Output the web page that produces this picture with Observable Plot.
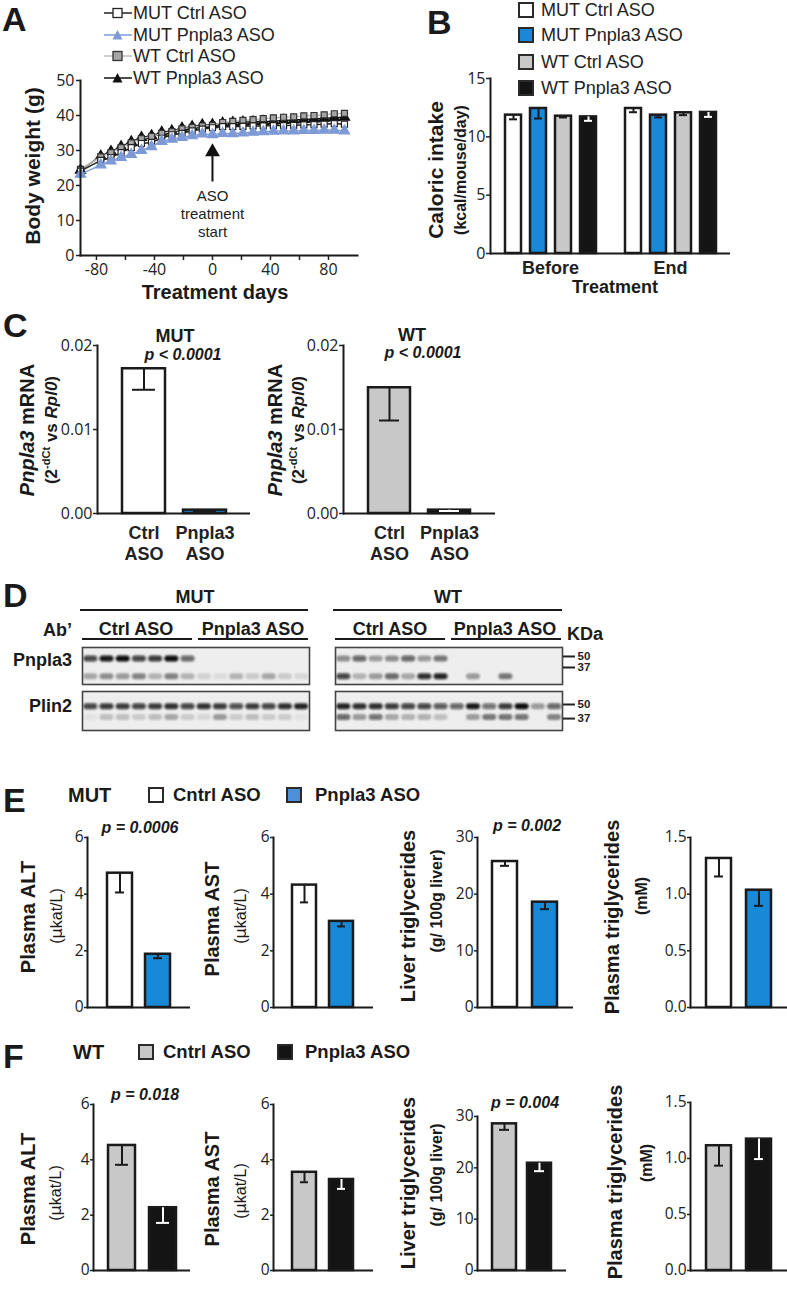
<!DOCTYPE html>
<html><head><meta charset="utf-8">
<script src="https://cdn.jsdelivr.net/npm/d3@7"></script>
<script src="https://cdn.jsdelivr.net/npm/@observablehq/plot@0.6"></script>
<style>
html,body{margin:0;padding:0;background:#fff;overflow:hidden;}
#fig{position:relative;width:787px;height:1289px;font-family:"Liberation Sans",Arial,sans-serif;color:#1a1a1a;}
.t{position:absolute;white-space:nowrap;line-height:1;}
</style></head><body><div id="fig"></div>
<script>
// ================= DATA =================
// Panel A: body weight (g) by treatment day
const days = [-91,-77,-70,-63,-56,-49,-42,-35,-28,-21,-14,-7,0,7,14,21,28,35,42,49,56,63,70,77,84,91];
const mutCtrlWeight   = [24.1,27.2,28.0,29.4,30.8,32.0,32.3,33.5,34.5,34.9,35.6,36.1,36.5,36.8,36.8,36.9,37.0,37.0,37.1,37.1,37.2,37.3,37.4,37.5,37.7,37.5];
const mutPnpla3Weight = [23.2,25.9,27.0,28.0,28.9,30.0,31.1,32.6,33.2,33.7,34.2,34.7,34.5,34.9,34.8,35.0,35.2,35.4,35.5,35.6,35.6,35.7,35.7,35.8,35.8,35.6];
const wtCtrlWeight    = [24.6,28.2,29.4,30.8,32.2,33.4,34.0,34.9,35.4,36.2,36.6,37.0,37.2,38.0,38.3,38.6,38.8,39.1,39.3,39.5,39.6,39.9,40.0,40.2,40.5,40.6];
const wtPnpla3Weight  = [24.4,28.4,29.7,31.1,32.5,33.7,34.2,35.2,35.6,36.4,36.8,37.3,37.4,37.8,38.0,38.1,38.2,38.3,38.4,38.6,38.7,38.9,39.0,39.2,39.4,39.5];
const weightTicks = [0,10,20,30,40,50];
const dayTicks = [-80,-60,-40,-20,0,20,40,60,80];
const dayLabels = [-80,-40,0,40,80];
const asoStart = [{day: 0, from: 21, to: 29.6, textAt: 19.3, text: "ASO\ntreatment\nstart"}];

// Panel B: caloric intake (kcal/mouse/day)
const groups4 = ["MUT Ctrl ASO","MUT Pnpla3 ASO","WT Ctrl ASO","WT Pnpla3 ASO"];
const periods = ["Before","End"];
const caloricBefore    = [11.86,12.43,11.77,11.71];
const caloricBeforeSem = [0.36,0.86,0.11,0.34];
const caloricEnd       = [12.43,11.86,12.06,12.09];
const caloricEndSem    = [0.32,0.20,0.20,0.38];
const caloricTicks = [0,5,10,15];

// Panel C: Pnpla3 mRNA
const asoGroups = ["Ctrl ASO","Pnpla3 ASO"];
const mutMrna = [0.01723,0.0004], mutMrnaSem = [0.0025,0.0001];
const wtMrna  = [0.01497,0.0004], wtMrnaSem  = [0.0039,0.0001];
const mrnaTicks = [0,0.01,0.02];

// Panel D: western blot band intensities (14 lanes: 7 Ctrl ASO, 7 Pnpla3 ASO)
const kDaMarkers = [50,37];
const pnpla3BandKDa = [47,26];
const plin2BandKDa = [48,38];
const mutPnpla3Upper = [0.75,0.95,1,0.75,0.8,1,0.6, 0,0,0,0,0,0,0];
const mutPnpla3Lower = [0.3,0.4,0.35,0.45,0.25,0.45,0.25, 0.12,0.08,0.25,0.15,0.3,0.15,0.1];
const mutPlin2Upper  = [0.75,0.8,0.8,0.75,0.8,0.85,0.75, 0.85,0.8,0.7,0.8,0.75,0.85,0.9];
const mutPlin2Lower  = [0.05,0.2,0.2,0.15,0.2,0.3,0.15, 0.1,0.35,0.15,0.2,0.15,0.15,0.05];
const wtPnpla3Upper  = [0.4,0.6,0.35,0.4,0.6,0.35,0.5, 0,0,0,0,0,0,0];
const wtPnpla3Lower  = [0.75,0.25,0.35,0.6,0.3,0.85,0.9, 0,0.35,0,0.5,0,0,0];
const wtPlin2Upper   = [0.9,0.85,0.85,0.8,0.75,0.75,0.65, 0.6,0.95,0.55,0.8,1,0.35,0.6];
const wtPlin2Lower   = [0.6,0.35,0.55,0.3,0.25,0.25,0.2, 0,0.35,0.5,0.5,0.5,0,0.45];

// Panels E/F
const treatGroups = ["Cntrl ASO","Pnpla3 ASO"];
const mutALT = [4.74,1.88],  mutALTSem = [0.68,0.14];
const mutAST = [4.32,3.04],  mutASTSem = [0.61,0.18];
const mutLiverTG = [25.76,18.59], mutLiverTGSem = [0.76,1.24];
const mutPlasmaTG = [1.315,1.035], mutPlasmaTGSem = [0.159,0.138];
const wtALT = [4.52,2.27],  wtALTSem = [0.70,0.55];
const wtAST = [3.55,3.29],  wtASTSem = [0.36,0.34];
const wtLiverTG = [28.57,20.9], wtLiverTGSem = [1.17,1.55];
const wtPlasmaTG = [1.114,1.173], wtPlasmaTGSem = [0.178,0.178];
const enzymeTicks = [0,2,4,6];
const liverTicks = [0,10,20,30];
const plasmaTGTicks = [0,0.5,1.0,1.5];

// ================= STYLE =================
const INK = "#1a1a1a";
const fill4 = ["#ffffff","#1a88d8","#c8c8c8","#141414"];
const err4 = [INK, INK, INK, "#ffffff"];
const BOLD = '"Liberation Sans", Arial, sans-serif';
const TICKF = '"Open Sans", sans-serif';
const baseStyle = {background: "transparent", overflow: "visible", fontFamily: TICKF, fontSize: "16px", color: "#222"};

const fig = document.getElementById("fig");
function put(el, left, top) {
  el.style.position = "absolute"; el.style.left = left + "px"; el.style.top = top + "px";
  fig.appendChild(el); return el;
}
function framePlot(opts, [x0, x1, y0, y1], m = {}) {
  const ml = m.left ?? 50, mr = m.right ?? 12, mt = m.top ?? 10, mb = m.bottom ?? 30;
  const svg = Plot.plot({
    width: ml + (x1 - x0) + mr, height: mt + (y1 - y0) + mb,
    marginLeft: ml, marginRight: mr, marginTop: mt, marginBottom: mb,
    style: baseStyle,
    ...opts
  });
  return put(svg, x0 - ml, y0 - mt);
}
function label(html, x, y, o = {}) {
  const {size = 18, weight = "bold", style = "normal", anchor = "middle", rotate = false, family = BOLD, color = INK} = o;
  const d = document.createElement("div");
  d.className = "t"; d.innerHTML = html;
  Object.assign(d.style, {left: x + "px", top: y + "px", fontSize: size + "px", fontWeight: weight, fontStyle: style, fontFamily: family, color});
  const tx = anchor === "start" ? "0" : anchor === "end" ? "-100%" : "-50%";
  d.style.transform = `translate(${tx}, -50%)` + (rotate ? " rotate(-90deg)" : "");
  fig.appendChild(d); return d;
}
function hline(x1, x2, y, w = 2) {
  const d = document.createElement("div");
  Object.assign(d.style, {position: "absolute", left: x1 + "px", top: (y - w / 2) + "px", width: (x2 - x1) + "px", height: w + "px", background: INK});
  fig.appendChild(d);
}
function swatch(x, y, color, size = 16) {
  const d = document.createElement("div");
  Object.assign(d.style, {position: "absolute", left: x + "px", top: y + "px", width: size + "px", height: size + "px", boxSizing: "border-box", border: "2.5px solid #2a2a2a", background: color});
  fig.appendChild(d);
}
function barMarks(data, cap, extra = {}) {
  return [
    Plot.barY(data, {...extra, x: "group", y: "mean", fill: "fill", stroke: INK, strokeWidth: 2.5}),
    Plot.ruleX(data, {...extra, x: "group", y1: "mean", y2: d => d.mean - d.sem, stroke: "err", strokeWidth: 2}),
    Plot.tickY(data, {...extra, x: "group", y: d => d.mean - d.sem, stroke: "err", strokeWidth: 2, insetLeft: cap, insetRight: cap}),
    Plot.ruleY([0], {stroke: INK, strokeWidth: 2}),
    Plot.frame({anchor: "left", facetAnchor: "left", stroke: INK, strokeWidth: 2})
  ];
}

// ================= PANEL A =================
label("A", 2, 19, {size: 34, anchor: "start"});
const aSeries = [
  {name: "MUT Ctrl ASO", values: mutCtrlWeight, line: "#222", sym: "square", fill: "#ffffff", stroke: "#222"},
  {name: "MUT Pnpla3 ASO", values: mutPnpla3Weight, line: "#7d9ad6", sym: "triangle", fill: "#7d9ad6", stroke: "#7d9ad6"},
  {name: "WT Ctrl ASO", values: wtCtrlWeight, line: "#bdbdbd", sym: "square", fill: "#a5a5a5", stroke: "#333"},
  {name: "WT Pnpla3 ASO", values: wtPnpla3Weight, line: "#111", sym: "triangle", fill: "#111", stroke: "#111"}
];
const drawOrder = [3, 2, 0, 1];
framePlot({
  x: {domain: [-91, 100]},
  y: {domain: [0, 50]},
  marks: [
    ...drawOrder.flatMap(k => {
      const s = aSeries[k];
      return [
        Plot.line(days, {x: d => d, y: (d, i) => s.values[i], stroke: s.line, strokeWidth: 1.4}),
        Plot.dot(days, {x: d => d, y: (d, i) => s.values[i], symbol: s.sym, r: s.sym === "square" ? 3.4 : 3.8, fill: s.fill, stroke: s.stroke, strokeWidth: 1.2})
      ];
    }),
    Plot.ruleX(asoStart, {x: "day", y1: "from", y2: "to", stroke: "#111", strokeWidth: 2}),
    Plot.dot(asoStart, {x: "day", y: "to", symbol: "triangle", r: 5.5, fill: "#111"}),
    Plot.text(asoStart, {x: "day", y: "textAt", text: "text", lineAnchor: "top", lineHeight: 1.2, fontSize: 15, fontFamily: BOLD, fill: "#222"}),
    Plot.frame({anchor: "left", stroke: INK, strokeWidth: 2}),
    Plot.frame({anchor: "bottom", stroke: INK, strokeWidth: 2}),
    Plot.axisY({ticks: weightTicks, tickSize: 4, tickPadding: 2, label: null, strokeWidth: 1.5, fontSize: 16, fontFamily: TICKF}),
    Plot.axisX({ticks: dayTicks, tickFormat: d => dayLabels.includes(d) ? String(d) : "", tickSize: 5, tickPadding: 3, label: null, strokeWidth: 1.5, fontSize: 16, fontFamily: TICKF})
  ]
}, [80, 357, 80, 255], {right: 15});
label("Body weight (g)", 32, 166, {size: 21, rotate: true});
label("Treatment days", 215, 292, {size: 20});
const aRows = [13, 35, 56, 78];
aSeries.forEach((s, k) => {
  const mk = s.sym === "square"
    ? `<rect x="9" y="1.5" width="9" height="9" fill="${s.fill}" stroke="${s.stroke}" stroke-width="1.3"/>`
    : `<path d="M13.5,1 L18.5,10.5 L8.5,10.5 Z" fill="${s.fill}"/>`;
  const d = document.createElement("div");
  d.innerHTML = `<svg width="28" height="12"><line x1="0" x2="28" y1="6" y2="6" stroke="${s.line}" stroke-width="1.5"/>${mk}</svg>`;
  Object.assign(d.style, {position: "absolute", left: "104px", top: (aRows[k] - 6) + "px", lineHeight: 0});
  fig.appendChild(d);
  label(s.name, 133, aRows[k], {size: 18, weight: "normal", anchor: "start", color: "#222"});
});

// ================= PANEL B =================
label("B", 427, 22, {size: 34, anchor: "start"});
const bRows = [10, 35, 62, 88];
groups4.forEach((g, k) => {
  swatch(518, bRows[k] - 8, fill4[k]);
  label(g, 541, bRows[k], {size: 18, weight: "normal", anchor: "start", color: "#222"});
});
const calData = periods.flatMap(p => groups4.map((g, i) => ({
  period: p, group: g,
  mean: (p === "Before" ? caloricBefore : caloricEnd)[i],
  sem: (p === "Before" ? caloricBeforeSem : caloricEndSem)[i],
  fill: fill4[i], err: err4[i]
})));
framePlot({
  fx: {domain: periods, padding: 0, axis: null},
  x: {domain: groups4, paddingInner: 0.36, paddingOuter: 0.58, axis: null},
  y: {domain: [0, 15]},
  color: {type: "identity"},
  marks: [
    ...barMarks(calData, 4, {fx: "period"}),
    Plot.axisY({ticks: caloricTicks, tickSize: 4, tickPadding: 1, label: null, strokeWidth: 1.5, fontSize: 16, fontFamily: TICKF}),
    Plot.axisFx({anchor: "bottom", tickSize: 0, tickPadding: 8, label: null, fontWeight: "bold", fontSize: 18, fontFamily: BOLD})
  ]
}, [490, 730, 78, 253], {bottom: 35});
label("Caloric intake", 435, 170, {size: 21, rotate: true});
label("(kcal/mouse/day)", 461, 170, {size: 16, rotate: true});
label("Treatment", 615, 287, {size: 18});

// ================= PANEL C =================
label("C", 3, 325, {size: 34, anchor: "start"});
function mrnaChart(values, sems, fills, errs, frame, cap) {
  const data = asoGroups.map((g, i) => ({group: g, mean: values[i], sem: sems[i], fill: fills[i], err: errs[i]}));
  framePlot({
    x: {domain: asoGroups, paddingInner: 0.3, paddingOuter: 0.4, axis: null},
    y: {domain: [0, 0.02]},
    color: {type: "identity"},
    marks: [
      ...barMarks(data, cap),
      Plot.axisY({ticks: mrnaTicks, tickFormat: d3.format(".2f"), tickSize: 4, tickPadding: 1, label: null, strokeWidth: 1.5, fontSize: 16, fontFamily: TICKF}),
      Plot.axisX({tickSize: 0, tickPadding: 11, tickFormat: d => d.replace(" ", "\n"), fontWeight: "bold", fontSize: 18, fontFamily: BOLD, lineHeight: 1.15, label: null})
    ]
  }, frame, {bottom: 60});
}
mrnaChart(mutMrna, mutMrnaSem, ["#ffffff", "#1a88d8"], [INK, INK], [97, 250, 345, 513], 10);
mrnaChart(wtMrna, wtMrnaSem, ["#c8c8c8", "#141414"], [INK, "#ffffff"], [343, 495, 345, 513], 11);
label("MUT", 175, 336, {size: 18});
label("p &lt; 0.0001", 183, 355, {size: 16, style: "italic"});
label("WT", 412, 335, {size: 18});
label("p &lt; 0.0001", 423, 353, {size: 16, style: "italic"});
const mrnaTitle = '<i>Pnpla3</i> mRNA';
const mrnaSub = '(2<sup style="font-size:65%;vertical-align:top;position:relative;top:-0.15em">-dCt</sup> vs <i>Rpl0</i>)';
label(mrnaTitle, 27, 430, {size: 20, rotate: true});
label(mrnaSub, 51, 430, {size: 17, rotate: true});
label(mrnaTitle, 275, 430, {size: 20, rotate: true});
label(mrnaSub, 298, 430, {size: 17, rotate: true});

// ================= PANEL D =================
label("D", 3, 595, {size: 34, anchor: "start"});
const ns = "http://www.w3.org/2000/svg";
let blurId = 0;
function blot(upper, lower, bandKDa, frame, kRange, withMarkers, halfPx) {
  const [x0, x1, y0, y1] = frame;
  const hh = halfPx * (kRange[1] - kRange[0]) / (y1 - y0);
  const bands = [
    ...upper.map((v, i) => ({lane: i, kDa: bandKDa[0], v})),
    ...lower.map((v, i) => ({lane: i, kDa: bandKDa[1], v}))
  ].filter(d => d.v > 0);
  const svg = framePlot({
    x: {domain: [0, upper.length], axis: null},
    y: {domain: kRange, ...(withMarkers ? {} : {axis: null})},
    opacity: {type: "identity"},
    marks: [
      Plot.frame({fill: "#eeeeee"}),
      Plot.rect(bands, {x1: d => d.lane + 0.08, x2: d => d.lane + 0.94, y1: d => d.kDa - hh, y2: d => d.kDa + hh, fill: "#0c0c0c", fillOpacity: "v", rx: 3}),
      Plot.frame({stroke: "#444", strokeWidth: 1.6}),
      ...(withMarkers ? [Plot.axisY({anchor: "right", ticks: kDaMarkers, tickSize: 12, tickPadding: 3, fontWeight: "bold", fontSize: 11.5, fontFamily: BOLD, label: null, strokeWidth: 2})] : [])
    ]
  }, frame, {left: 0, right: withMarkers ? 40 : 0, top: 0, bottom: 0});
  const id = "blur" + (blurId++);
  const defs = document.createElementNS(ns, "defs");
  defs.innerHTML = `<filter id="${id}" x="-30%" y="-100%" width="160%" height="300%"><feGaussianBlur stdDeviation="1.2 0.9"/></filter>`;
  svg.insertBefore(defs, svg.firstChild);
  svg.querySelectorAll('g[aria-label="rect"]').forEach(g => g.setAttribute("filter", `url(#${id})`));
}
blot(mutPnpla3Upper, mutPnpla3Lower, pnpla3BandKDa, [82, 309, 647, 684], [16.9, 60.6], false, 3);
blot(mutPlin2Upper, mutPlin2Lower, plin2BandKDa, [82, 309, 691, 730], [26, 62], false, 3);
blot(wtPnpla3Upper, wtPnpla3Lower, pnpla3BandKDa, [335, 562, 647, 684], [16.9, 60.6], true, 3);
blot(wtPlin2Upper, wtPlin2Lower, plin2BandKDa, [335, 562, 691, 730], [26, 62], true, 3);
label("MUT", 195, 597, {size: 18}); hline(80, 308, 610);
label("WT", 448, 597, {size: 18}); hline(333, 562, 610);
label("Ab’", 72, 630, {size: 18, anchor: "end"});
label("Ctrl ASO", 136, 629, {size: 18}); hline(82, 192, 639);
label("Pnpla3 ASO", 253, 629, {size: 18}); hline(198, 308, 639);
label("Ctrl ASO", 390, 629, {size: 18}); hline(335, 445, 639);
label("Pnpla3 ASO", 505, 629, {size: 18}); hline(451, 561, 639);
label("KDa", 567, 634, {size: 18, anchor: "start"});
label("Pnpla3", 72, 660, {size: 18, anchor: "end"});
label("Plin2", 72, 706, {size: 18, anchor: "end"});

// ================= PANELS E / F =================
function treatChart(values, sems, fills, errs, ticks, fmt, frame, pads, cap) {
  const data = treatGroups.map((g, i) => ({group: g, mean: values[i], sem: sems[i], fill: fills[i], err: errs[i]}));
  framePlot({
    x: {domain: treatGroups, paddingInner: pads[0], paddingOuter: pads[1], axis: null},
    y: {domain: [0, ticks[ticks.length - 1]]},
    color: {type: "identity"},
    marks: [
      ...barMarks(data, cap),
      Plot.axisY({ticks, tickFormat: fmt, tickSize: 3, tickPadding: 1, label: null, strokeWidth: 1.5, fontSize: 15.5, fontFamily: TICKF})
    ]
  }, frame, {bottom: 8});
}
const mutFill = ["#ffffff", "#1789d6"], mutErr = [INK, INK];
const wtFill = ["#c8c8c8", "#141414"], wtErr = [INK, "#ffffff"];
const f0 = d3.format("d"), f1 = d3.format(".1f");

label("E", 3, 800, {size: 34, anchor: "start"});
label("MUT", 68, 795, {size: 20, anchor: "start"});
swatch(148, 787, "#ffffff"); label("Cntrl ASO", 173, 795, {size: 18.5, anchor: "start"});
swatch(286, 787, "#4d8fd8"); label("Pnpla3 ASO", 315, 795, {size: 18.5, anchor: "start"});
treatChart(mutALT, mutALTSem, mutFill, mutErr, enzymeTicks, f0, [87, 190, 837, 1007], [0.35, 0.5], 8);
treatChart(mutAST, mutASTSem, mutFill, mutErr, enzymeTicks, f0, [273, 373, 837, 1007], [0.35, 0.5], 8);
treatChart(mutLiverTG, mutLiverTGSem, mutFill, mutErr, liverTicks, f0, [477, 573, 837, 1007], [0.37, 0.37], 8);
treatChart(mutPlasmaTG, mutPlasmaTGSem, mutFill, mutErr, plasmaTGTicks, f1, [690, 787, 837, 1007], [0.37, 0.37], 8);
label("p = 0.0006", 140, 828, {size: 16, style: "italic"});
label("p = 0.002", 527, 826, {size: 16, style: "italic"});
const mukat = '(<span style="font-family:\'DejaVu Sans\'">µ</span>kat/L)';
label("Plasma ALT", 28, 917, {size: 20, rotate: true});
label(mukat, 57, 916, {size: 16, weight: "normal", rotate: true});
label("Plasma AST", 212, 919, {size: 20, rotate: true});
label(mukat, 241, 916, {size: 16, weight: "normal", rotate: true});
label("Liver triglycerides", 408, 916, {size: 20, rotate: true});
label("(g/ 100g liver)", 437, 901, {size: 16, rotate: true});
label("Plasma triglycerides", 612, 917, {size: 20, rotate: true});
label("(mM)", 642, 896, {size: 16, rotate: true});

label("F", 3, 1056, {size: 34, anchor: "start"});
label("WT", 73, 1052, {size: 20, anchor: "start"});
swatch(138, 1044, "#c8c8c8"); label("Cntrl ASO", 163, 1052, {size: 18.5, anchor: "start"});
swatch(277, 1044, "#141414"); label("Pnpla3 ASO", 305, 1052, {size: 18.5, anchor: "start"});
treatChart(wtALT, wtALTSem, wtFill, wtErr, enzymeTicks, f0, [93, 190, 1104, 1270], [0.35, 0.35], 7);
treatChart(wtAST, wtASTSem, wtFill, wtErr, enzymeTicks, f0, [273, 373, 1104, 1270], [0.35, 0.5], 8);
treatChart(wtLiverTG, wtLiverTGSem, wtFill, wtErr, liverTicks, f0, [477, 566, 1116, 1270], [0.32, 0.42], 7);
treatChart(wtPlasmaTG, wtPlasmaTGSem, wtFill, wtErr, plasmaTGTicks, f1, [690, 787, 1102, 1270], [0.37, 0.37], 8);
label("p = 0.018", 145, 1095, {size: 16, style: "italic"});
label("p = 0.004", 525, 1103, {size: 16, style: "italic"});
label("Plasma ALT", 28, 1189, {size: 20, rotate: true});
label(mukat, 56, 1193, {size: 16, weight: "normal", rotate: true});
label("Plasma AST", 212, 1189, {size: 20, rotate: true});
label(mukat, 241, 1191, {size: 16, weight: "normal", rotate: true});
label("Liver triglycerides", 408, 1183, {size: 20, rotate: true});
label("(g/ 100g liver)", 437, 1175, {size: 16, rotate: true});
label("Plasma triglycerides", 615, 1182, {size: 20, rotate: true});
label("(mM)", 647, 1163, {size: 16, rotate: true});
</script></body></html>
